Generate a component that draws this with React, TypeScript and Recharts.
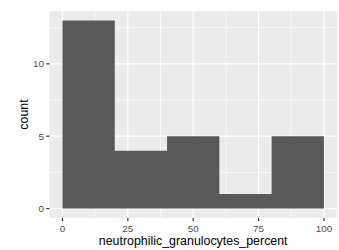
import React from "react";
import {
  Area,
  CartesianGrid,
  ComposedChart,
  Label,
  XAxis,
  YAxis,
} from "recharts";

// histogram bins (left edges) and counts
const binEdges = [0, 20, 40, 60, 80, 100];
const counts = [13, 4, 5, 1, 5];

const xTicks = [0, 25, 50, 75, 100];
const xMinor = [12.5, 37.5, 62.5, 87.5];
const yTicks = [0, 5, 10];
const yMinor = [2.5, 7.5, 12.5];

// step area: last edge repeats the final count so the last bin closes at 100
const data = binEdges.map((x, i) => ({ x, count: counts[Math.min(i, counts.length - 1)] }));

const tickStyle = { fill: "#4D4D4D", fontSize: 9.9, fontFamily: "Liberation Sans, Arial, sans-serif" };
const titleStyle = { fill: "#000", fontSize: 12.4, fontFamily: "Liberation Sans, Arial, sans-serif" };

export default function App() {
  return (
    <div style={{ position: "absolute", left: 0, top: 0, width: 339, height: 250, background: "#fff" }}>
      <ComposedChart
        width={339}
        height={250}
        data={data}
        margin={{ top: 11, right: 2, bottom: 0, left: 0 }}
      >
        <CartesianGrid
          fill="#EBEBEB"
          stroke="#FFFFFF"
          strokeWidth={0.6}
          horizontalValues={yMinor}
          verticalValues={xMinor}
        />
        <CartesianGrid
          stroke="#FFFFFF"
          strokeWidth={1.2}
          horizontalValues={yTicks}
          verticalValues={xTicks}
        />
        <XAxis
          dataKey="x"
          type="number"
          domain={[-5, 105]}
          ticks={xTicks}
          allowDataOverflow
          height={32}
          axisLine={false}
          tickSize={3.1}
          tickMargin={3.5}
          tickLine={{ stroke: "#333333", strokeWidth: 1.2 }}
          tick={tickStyle}
        >
          <Label value="neutrophilic_granulocytes_percent" position="insideBottom" offset={5} style={titleStyle} />
        </XAxis>
        <YAxis
          type="number"
          domain={[-0.65, 13.65]}
          ticks={yTicks}
          allowDataOverflow
          width={49.4}
          axisLine={false}
          tickSize={3.1}
          tickMargin={2.2}
          tickLine={{ stroke: "#333333", strokeWidth: 1.2 }}
          tick={tickStyle}
        >
          <Label value="count" angle={-90} position="center" dx={-1} style={titleStyle} />
        </YAxis>
        <Area
          type="stepAfter"
          dataKey="count"
          baseValue={0}
          fill="#595959"
          fillOpacity={1}
          stroke="none"
          isAnimationActive={false}
          dot={false}
          activeDot={false}
        />
      </ComposedChart>
    </div>
  );
}
